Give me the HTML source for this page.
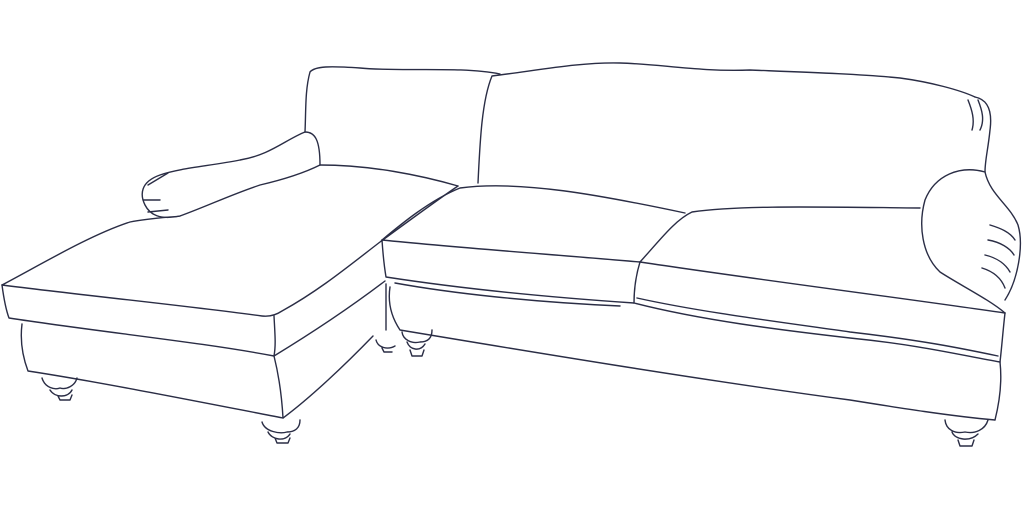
<!DOCTYPE html>
<html><head><meta charset="utf-8"><style>html,body{margin:0;padding:0;background:#fff}svg{display:block}</style></head>
<body>
<svg width="1024" height="512" viewBox="0 0 1024 512" xmlns="http://www.w3.org/2000/svg">
<g fill="none" stroke="#2a2d45" stroke-width="1.4" stroke-linejoin="round" stroke-linecap="round">
<!-- main back -->
<path d="M478,183 C480,140 482,100 492,76 C540,70 580,62 620,63 C660,64 700,72 750,70 C800,72 860,74 900,78 C930,82 960,90 975,97"/>
<path d="M975,97 C990,100 992,115 990,130 C988,150 985,160 985,172"/>
<path d="M968,100 C972,110 975,120 972,130 M978,100 C982,110 985,120 980,130"/>
<!-- left back -->
<path d="M500,74 C460,66 400,72 360,68 C330,66 315,66 310,72 C305,90 306,110 305,132"/>
<path d="M305,132 C315,132 320,140 320,165"/>
<!-- chaise arm -->
<path d="M305,132 C285,140 270,155 240,160 C210,166 180,168 160,175 C140,182 140,195 145,205 C150,215 160,220 180,216 C210,205 230,195 260,185 C290,178 310,170 320,165"/>
<path d="M148,185 L168,173 M143,200 L160,200 M148,212 L168,210"/>
<!-- chaise seat -->
<path d="M320,165 C370,165 420,175 458,186"/>
<path d="M2,285 C40,265 90,235 130,222 C150,218 175,217 180,216"/>
<path d="M2,285 C80,295 180,305 262,316 C270,317 276,315 282,311 C320,290 350,265 380,242 C410,220 440,198 458,186"/>
<path d="M2,285 C4,300 6,310 9,318 C100,332 200,342 274,356 C320,328 360,300 385,281"/>
<path d="M274,316 C275,335 276,345 274,356"/>
<!-- chaise base -->
<path d="M22,324 C20,340 22,355 28,371 C100,382 200,402 283,418 C310,398 345,365 373,336"/>
<path d="M274,356 C280,380 282,400 283,418"/>
<path d="M386,284 L386,330"/>
<!-- middle cushion -->
<path d="M382,240 C400,225 430,200 460,188 C520,180 600,195 685,213"/>
<path d="M382,240 C460,248 560,255 640,262"/>
<path d="M382,240 C383,255 384,265 386,277 C470,290 560,298 634,303"/>
<path d="M640,262 C636,275 634,290 634,303"/>
<!-- right cushion -->
<path d="M640,262 C660,240 675,220 692,212 C740,205 820,207 920,208"/>
<path d="M640,262 C760,280 880,295 1005,313"/>
<path d="M634,303 C700,320 780,330 850,338 C920,345 960,355 1000,362"/>
<path d="M637,298 C700,312 780,322 850,332 C920,340 960,348 998,356"/>
<path d="M1005,313 C1003,330 1002,345 1000,362"/>
<!-- right arm -->
<path d="M985,172 C960,165 935,175 925,200 C918,225 922,255 940,272 C960,285 990,300 1005,313"/>
<path d="M985,172 C990,195 1010,205 1018,225 C1024,245 1018,280 1005,300"/>
<path d="M990,225 C1000,228 1010,232 1015,240 M988,240 C1000,242 1010,248 1014,255 M985,255 C998,258 1006,265 1010,272 M982,268 C995,272 1002,280 1005,288"/>
<!-- main base -->
<path d="M390,287 C388,300 390,315 400,330 C520,350 700,380 850,400 C900,408 950,416 995,420"/>
<path d="M1000,362 C1002,380 1000,400 995,420"/>
<path d="M395,283 C450,293 530,302 620,306"/>
<!-- feet -->
<path d="M42,378 C45,388 55,390 60,388 C66,390 75,386 77,378 M50,390 C55,398 68,398 72,390 M58,396 L60,400 L70,400 L72,395"/>
<path d="M262,422 C265,432 280,434 287,432 C295,432 300,428 300,420 M268,432 C272,440 285,442 290,434 M275,438 L277,443 L288,443 L290,438"/>
<path d="M376,340 C378,348 388,350 395,346 M382,348 L384,352 L392,352"/>
<path d="M402,332 C403,340 412,344 420,342 C428,342 432,338 432,330 M407,342 C410,350 420,352 425,344 M410,350 L412,356 L422,356 L424,350"/>
<path d="M945,420 C946,430 955,434 965,432 C975,434 985,430 988,420 M952,432 C955,440 970,442 978,434 M958,440 L960,446 L972,446 L974,440"/>
</g>
</svg>
</body></html>
